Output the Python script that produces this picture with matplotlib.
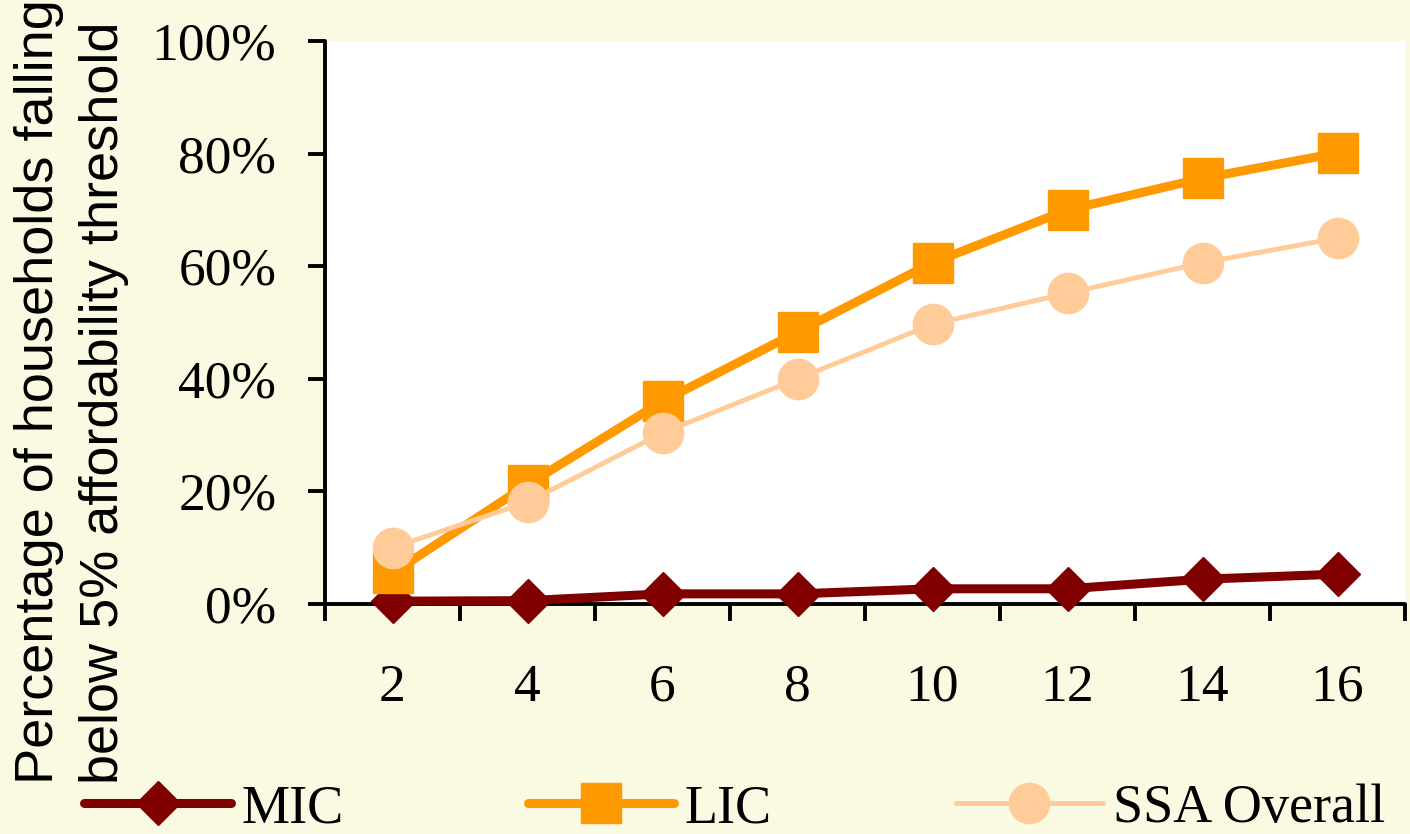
import matplotlib
matplotlib.use("Agg")
import matplotlib.pyplot as plt
from matplotlib.ticker import FixedLocator, FuncFormatter

# share of households below the 5% affordability threshold, by x value
x_vals = [2, 4, 6, 8, 10, 12, 14, 16]
mic = [0.5, 0.6, 1.8, 1.8, 2.7, 2.7, 4.4, 5.3]
lic = [5.5, 21.2, 36.0, 48.3, 60.6, 70.0, 75.6, 80.1]
ssa = [10.0, 18.1, 30.4, 40.0, 49.7, 55.2, 60.6, 65.0]

BG = "#FAF9E2"
SERIF = ["Liberation Serif", "DejaVu Serif"]
SANS = ["Liberation Sans", "DejaVu Sans"]

fig = plt.figure(figsize=(14.1, 8.34), dpi=100, facecolor=BG)
ax = fig.add_axes([325 / 1410, 230 / 834, 1080 / 1410, 563 / 834])
ax.set_facecolor("white")

ax.plot(x_vals, mic, color="#800000", lw=6.5, marker="D", ms=22,
        solid_joinstyle="round", solid_capstyle="round", clip_on=False, label="MIC", zorder=3)
ax.plot(x_vals, lic, color="#FF9900", lw=6.5, marker="s", ms=29,
        solid_joinstyle="round", solid_capstyle="round", clip_on=False, label="LIC", zorder=3)
ax.plot(x_vals, ssa, color="#FFCC99", lw=3.5, marker="o", ms=29,
        solid_capstyle="round", clip_on=False, label="SSA Overall", zorder=3)

ax.set_xlim(1, 17)
ax.set_ylim(0, 100)

# category boundaries get tick marks, the labels sit between them
ax.xaxis.set_major_locator(FixedLocator([1, 3, 5, 7, 9, 11, 13, 15, 17]))
ax.xaxis.set_minor_locator(FixedLocator(x_vals))
ax.xaxis.set_major_formatter(FuncFormatter(lambda v, p: ""))
ax.xaxis.set_minor_formatter(FuncFormatter(lambda v, p: f"{v:.0f}"))
ax.tick_params(axis="x", which="major", direction="out", length=12, width=2.8)
ax.tick_params(axis="x", which="minor", length=0, pad=43)

ax.set_yticks([0, 20, 40, 60, 80, 100])
ax.yaxis.set_major_formatter(FuncFormatter(lambda v, p: f"{v:.0f}%"))
ax.tick_params(axis="y", direction="out", length=12, width=2.8, pad=23)

for lbl in ax.get_xticklabels(which="both") + ax.get_yticklabels():
    lbl.set_fontfamily(SERIF)
    lbl.set_fontsize(38.5)

for side in ["top", "right"]:
    ax.spines[side].set_visible(False)
for side in ["left", "bottom"]:
    ax.spines[side].set_linewidth(2.8)
    ax.spines[side].set_capstyle("round")

fig.text(14 / 1410, 50 / 834,
         "Percentage of households falling\nbelow 5% affordability threshold",
         rotation=90, ha="left", va="bottom", multialignment="left",
         fontfamily=SANS, fontsize=39, linespacing=1.38)

fig.legend(loc="center", bbox_to_anchor=(735 / 1410, 25 / 834), ncol=3,
           frameon=False, prop={"family": SERIF, "size": 39},
           handlelength=2.7, handletextpad=0.2, columnspacing=3.4,
           borderaxespad=0, borderpad=0)

fig.savefig("out.png", dpi=100, facecolor=BG)
